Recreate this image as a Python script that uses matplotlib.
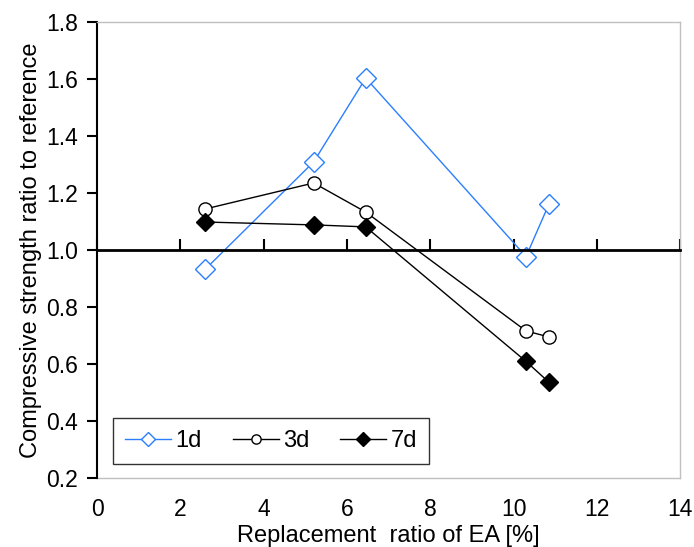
import matplotlib
matplotlib.use("Agg")
import matplotlib.pyplot as plt

plt.rcParams['font.family'] = ['Liberation Sans', 'DejaVu Sans']

x = [2.6, 5.2, 6.45, 10.3, 10.85]
d1 = [0.933, 1.309, 1.603, 0.977, 1.161]
d3 = [1.144, 1.235, 1.133, 0.716, 0.695]
d7 = [1.098, 1.088, 1.081, 0.609, 0.536]
labels = ['1d', '3d', '7d']
blue = '#2b7fff'

fig = plt.figure(figsize=(6.94, 5.47), dpi=100)
ax = fig.add_axes([0.140, 0.126, 0.840, 0.834])

ax.plot(x, d1, color=blue, lw=1.0, marker='D', ms=10, mfc='white', mec=blue, mew=1.0, label=labels[0])
ax.plot(x, d3, color='black', lw=1.0, marker='o', ms=9.5, mfc='white', mec='black', mew=1.0, label=labels[1])
ax.plot(x, d7, color='black', lw=1.0, marker='D', ms=9.5, mfc='black', mec='black', mew=1.0, label=labels[2])

ax.set_xlim(0, 14)
ax.set_ylim(0.2, 1.8)
ax.set_xticks(range(0, 15, 2))
yt = [0.2, 0.4, 0.6, 0.8, 1.0, 1.2, 1.4, 1.6, 1.8]
ax.set_yticks(yt)
ax.set_yticklabels([f'{v:.1f}' for v in yt])

# x axis crossing at 1.0
ax.spines['bottom'].set_position(('data', 1.0))
ax.spines['bottom'].set_linewidth(2.0)
ax.spines['bottom'].set_color('black')
ax.tick_params(axis='x', direction='in', length=8, width=1.5, labelbottom=False, pad=2)
ax.spines['left'].set_color('black')
ax.spines['left'].set_linewidth(1.5)
ax.tick_params(axis='y', direction='out', length=7, width=1.5, labelsize=16.5, pad=7)
for s in ['top', 'right']:
    ax.spines[s].set_color('#c0c0c0')
    ax.spines[s].set_linewidth(1.0)

sec = ax.secondary_xaxis(0)
sec.set_xticks(range(0, 15, 2))
sec.spines['bottom'].set_color('#c0c0c0')
sec.spines['bottom'].set_linewidth(1.0)
sec.tick_params(axis='x', length=0, labelsize=16.5, pad=14)
sec.set_xlabel('Replacement  ratio of EA [%]', fontsize=17, labelpad=3)

ax.set_ylabel('Compressive strength ratio to reference', fontsize=17, labelpad=3)

leg = ax.legend(loc='lower left', bbox_to_anchor=(0.027, 0.031), borderaxespad=0, ncol=3, fontsize=17,
                frameon=True, fancybox=False, edgecolor='black', markerscale=0.7,
                handlelength=1.95, handletextpad=0.2, columnspacing=1.3, borderpad=0.5)
leg.get_frame().set_linewidth(1.0)

fig.savefig('out.png', dpi=100)
